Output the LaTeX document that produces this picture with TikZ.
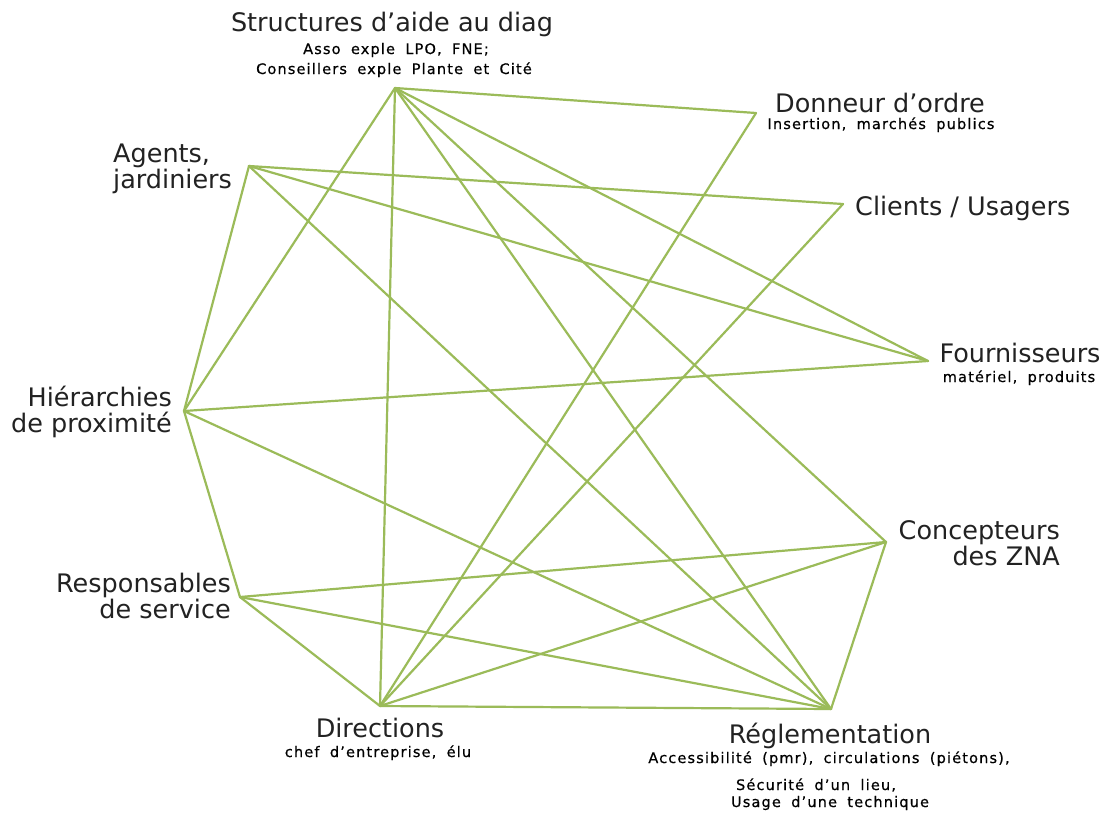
\documentclass[tikz,border=0pt]{standalone}
\usepackage{fontspec}
\newfontfamily\labfnt{DejaVu Sans}
\newfontfamily\subfnt[LetterSpace=8,WordSpace=1.8,FakeBold=0.6]{DejaVu Sans}
\definecolor{edgegreen}{HTML}{9BBB59}
\definecolor{labtext}{HTML}{222222}
\begin{document}
\begin{tikzpicture}[x=1pt,y=-1pt,
  edge/.style={draw=edgegreen,line width=2.2pt,line cap=round},
  lab/.style={inner sep=0pt,text=labtext,font=\labfnt\fontsize{25.5}{26}\selectfont},
  sublab/.style={inner sep=0pt,text=black,font=\subfnt\fontsize{14.5}{17}\selectfont}]
\fill[white] (0,0) rectangle (1108,820);
\useasboundingbox (0,0) rectangle (1108,820);
% connection points
\coordinate (S)  at (395,88);
\coordinate (D)  at (756,113);
\coordinate (A)  at (249,166);
\coordinate (C)  at (843,204);
\coordinate (F)  at (928,361);
\coordinate (H)  at (184,411);
\coordinate (Z)  at (886,542);
\coordinate (R)  at (240,597);
\coordinate (Di) at (380,706);
\coordinate (Re) at (831,709);
% connectors
\draw[edge] (S) -- (D);
\draw[edge] (S) -- (F);
\draw[edge] (S) -- (Z);
\draw[edge] (S) -- (Re);
\draw[edge] (S) -- (Di);
\draw[edge] (S) -- (H);
\draw[edge] (A) -- (C);
\draw[edge] (A) -- (F);
\draw[edge] (A) -- (Re);
\draw[edge] (A) -- (H);
\draw[edge] (H) -- (F);
\draw[edge] (H) -- (Re);
\draw[edge] (H) -- (R);
\draw[edge] (R) -- (Z);
\draw[edge] (R) -- (Re);
\draw[edge] (R) -- (Di);
\draw[edge] (Di) -- (D);
\draw[edge] (Di) -- (C);
\draw[edge] (Di) -- (Z);
\draw[edge] (Di) -- (Re);
\draw[edge] (Z) -- (Re);
% labels
\node[lab,anchor=base] (Slab) at (392,31) {Structures d’aide au diag};
\node[sublab,anchor=base] (Ssub1) at (396,54) {Asso exple LPO, FNE;};
\node[sublab,anchor=base] (Ssub2) at (394,74) {Conseillers exple Plante et Cité};
\node[lab,anchor=base] (Dlab) at (880,112) {Donneur d’ordre};
\node[sublab,anchor=base] (Dsub) at (881,129) {Insertion, marchés publics};
\node[lab,anchor=base west,align=left] (Alab) at (113,188) {Agents,\\jardiniers};
\node[lab,anchor=base west] (Clab) at (855,215) {Clients / Usagers};
\node[lab,anchor=base] (Flab) at (1020,362) {Fournisseurs};
\node[sublab,anchor=base] (Fsub) at (1019,382) {matériel, produits};
\node[lab,anchor=base east,align=right] (Hlab) at (172,432) {Hiérarchies\\de proximité};
\node[lab,anchor=base east,align=right] (Rlab) at (231,618) {Responsables\\de service};
\node[lab,anchor=base east,align=right] (Zlab) at (1060,565) {Concepteurs\\des ZNA};
\node[lab,anchor=base] (Dilab) at (380,737) {Directions};
\node[sublab,anchor=base] (Disub) at (378,757) {chef d’entreprise, élu};
\node[lab,anchor=base] (Relab) at (830,743) {Réglementation};
\node[sublab,anchor=base] (Resub1) at (829,763) {Accessibilité (pmr), circulations (piétons),};
\node[sublab,anchor=base] (Resub2) at (816,790) {Sécurité d’un lieu,};
\node[sublab,anchor=base] (Resub3) at (830,807) {Usage d’une technique};
\end{tikzpicture}
\end{document}
